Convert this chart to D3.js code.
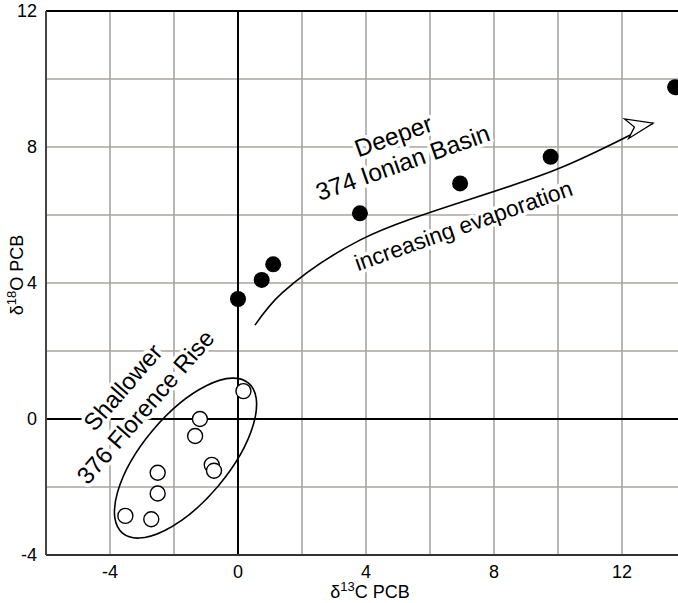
<!DOCTYPE html>
<html>
<head>
<meta charset="utf-8">
<script src="https://cdnjs.cloudflare.com/ajax/libs/d3/7.8.5/d3.min.js"></script>
<style>
  body { margin: 0; background: #fff; }
  svg { display: block; font-family: "Liberation Sans", Arial, sans-serif; }
  .halo { paint-order: stroke; stroke: #fff; stroke-width: 7px; stroke-linejoin: round; }
</style>
</head>
<body>
<script>
// Deeper, 374 Ionian Basin (filled)
const deepC = [0, 0.74, 1.1, 3.81, 6.94, 9.77, 13.66];
const deepO = [3.53, 4.09, 4.55, 6.05, 6.93, 7.71, 9.76];
// Shallower, 376 Florence Rise (open)
const shallowC = [0.17, -1.19, -1.34, -0.82, -0.75, -2.51, -2.51, -3.52, -2.71];
const shallowO = [0.82, 0, -0.5, -1.35, -1.52, -1.58, -2.19, -2.85, -2.95];

const xTicks = [-4, 0, 4, 8, 12];
const yTicks = [-4, 0, 4, 8, 12];
const gridStep = [-6, -4, -2, 0, 2, 4, 6, 8, 10, 12, 14];

// evaporation trend arrow (data units)
const trendC = [0.53, 1.37, 3.81, 10.06, 12.97];
const trendO = [2.76, 3.7, 5.26, 7.38, 8.7];

const w = 678, h = 603;
const mLeft = 46, mTop = 11, mBottom = 555;

const svg = d3.select("body").append("svg")
  .attr("width", w)
  .attr("height", h);

const x = d3.scaleLinear().domain([-6, 14]).range([mLeft, mLeft + 20 * 32]);
const y = d3.scaleLinear().domain([-4, 12]).range([mBottom, mTop]);

// grid
svg.append("g").selectAll("line")
  .data(gridStep.filter(d => d > -6 && d !== 0))
  .enter().append("line")
  .attr("x1", d => x(d)).attr("x2", d => x(d))
  .attr("y1", mTop).attr("y2", mBottom)
  .attr("stroke", "#a9a5a1").attr("stroke-width", 1.6);

svg.append("g").selectAll("line")
  .data(gridStep.filter(d => d > -4 && d < 12 && d !== 0))
  .enter().append("line")
  .attr("x1", mLeft).attr("x2", w)
  .attr("y1", d => y(d)).attr("y2", d => y(d))
  .attr("stroke", "#a9a5a1").attr("stroke-width", 1.6);

// zero lines
svg.append("line")
  .attr("x1", x(0)).attr("x2", x(0)).attr("y1", mTop).attr("y2", mBottom)
  .attr("stroke", "#000").attr("stroke-width", 2);
svg.append("line")
  .attr("x1", mLeft).attr("x2", w).attr("y1", y(0)).attr("y2", y(0))
  .attr("stroke", "#000").attr("stroke-width", 2);

// frame
svg.append("line").attr("x1", mLeft).attr("x2", w).attr("y1", mTop).attr("y2", mTop)
  .attr("stroke", "#000").attr("stroke-width", 2);
svg.append("line").attr("x1", mLeft).attr("x2", w).attr("y1", mBottom).attr("y2", mBottom)
  .attr("stroke", "#333").attr("stroke-width", 2);
svg.append("line").attr("x1", mLeft).attr("x2", mLeft).attr("y1", mTop).attr("y2", mBottom)
  .attr("stroke", "#444").attr("stroke-width", 2);

// tick labels
svg.append("g").selectAll("text")
  .data(yTicks)
  .enter().append("text")
  .attr("x", 37)
  .attr("y", d => y(d))
  .attr("dy", "0.36em")
  .attr("text-anchor", "end")
  .style("font-size", "18px")
  .text(d => d);

svg.append("g").selectAll("text")
  .data(xTicks)
  .enter().append("text")
  .attr("x", d => x(d))
  .attr("y", 578)
  .attr("text-anchor", "middle")
  .style("font-size", "18px")
  .text(d => d);

// axis titles
const xt = svg.append("text")
  .attr("x", x(4) + 4).attr("y", 598)
  .attr("text-anchor", "middle")
  .style("font-size", "18px");
xt.append("tspan").text("\u03b4");
xt.append("tspan").attr("dy", -7).style("font-size", "13px").text("13");
xt.append("tspan").attr("dy", 7).text("C PCB");

const yt = svg.append("text")
  .attr("transform", `translate(23, ${(mTop + mBottom) / 2 - 8}) rotate(-90)`)
  .attr("text-anchor", "middle")
  .style("font-size", "18px");
yt.append("tspan").text("\u03b4");
yt.append("tspan").attr("dy", -7).style("font-size", "13px").text("18");
yt.append("tspan").attr("dy", 7).text("O PCB");

// ellipse round the shallow group
svg.append("ellipse")
  .attr("transform", `translate(${x(-1.64)}, ${y(-1.15)}) rotate(-50)`)
  .attr("rx", 98).attr("ry", 43)
  .attr("fill", "none").attr("stroke", "#000").attr("stroke-width", 1.6);

// trend arrow
const line = d3.line().curve(d3.curveCatmullRom.alpha(0.5));
const pts = trendC.map((c, i) => [x(c), y(trendO[i])]);
svg.append("path")
  .attr("d", line(pts))
  .attr("fill", "none").attr("stroke", "#000").attr("stroke-width", 1.6);

const tip = pts[pts.length - 1];
const ang = Math.atan2(tip[1] - 128, tip[0] - 630) ;
const ux = Math.cos(ang), uy = Math.sin(ang);
const nx = -uy, ny = ux;
const head = [
  tip,
  [tip[0] - 27 * ux + 10 * nx, tip[1] - 27 * uy + 10 * ny],
  [tip[0] - 19 * ux, tip[1] - 19 * uy],
  [tip[0] - 27 * ux - 10 * nx, tip[1] - 27 * uy - 10 * ny]
];
svg.append("path")
  .attr("d", "M" + head.join("L") + "Z")
  .attr("fill", "#fff").attr("stroke", "#000").attr("stroke-width", 1.3)
  .attr("stroke-linejoin", "miter");

// annotations
const deepLbl = svg.append("text")
  .attr("class", "halo")
  .attr("transform", `translate(${x(5.0)}, ${y(7.94)}) rotate(-19.5)`)
  .attr("text-anchor", "middle")
  .style("font-size", "24.5px");
deepLbl.append("tspan").attr("x", 0).attr("dy", "-0.22em").text("Deeper");
deepLbl.append("tspan").attr("x", 0).attr("dy", "1.15em").text("374 Ionian Basin");

svg.append("text")
  .attr("class", "halo")
  .attr("transform", `translate(${x(7.05)}, ${y(5.68)}) rotate(-19.5)`)
  .attr("text-anchor", "middle")
  .attr("dy", "0.33em")
  .style("font-size", "22.8px")
  .text("increasing evaporation");

const shalLbl = svg.append("text")
  .attr("class", "halo")
  .attr("transform", `translate(${x(-3.25)}, ${y(0.65)}) rotate(-49)`)
  .attr("text-anchor", "middle")
  .style("font-size", "24px");
shalLbl.append("tspan").attr("x", 0).attr("dy", "-0.27em").text("Shallower");
shalLbl.append("tspan").attr("x", 0).attr("dy", "1.25em").text("376 Florence Rise");

// points
svg.append("g").selectAll("circle")
  .data(shallowC)
  .enter().append("circle")
  .attr("cx", d => x(d))
  .attr("cy", (d, i) => y(shallowO[i]))
  .attr("r", 7.5)
  .attr("fill", "#fff").attr("stroke", "#000").attr("stroke-width", 1.4);

svg.append("g").selectAll("circle")
  .data(deepC)
  .enter().append("circle")
  .attr("cx", d => x(d))
  .attr("cy", (d, i) => y(deepO[i]))
  .attr("r", 8)
  .attr("fill", "#000");
</script>
</body>
</html>
